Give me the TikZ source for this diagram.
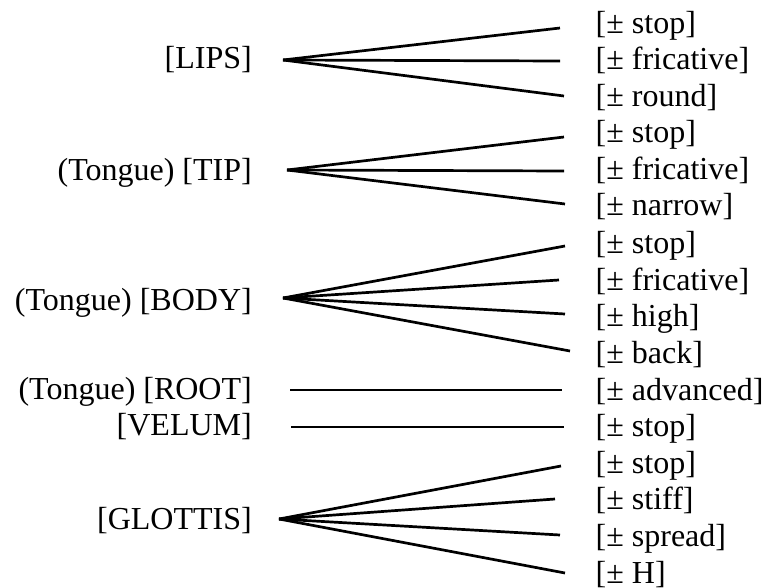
\documentclass[tikz,border=0pt]{standalone}
\usepackage{fontspec}
\setmainfont{Liberation Serif}
\begin{document}
\begin{tikzpicture}[x=1bp, y=-1bp,
  txt/.style={font=\fontsize{32bp}{36bp}\selectfont, inner sep=0pt},
  art/.style={txt, anchor=base east},
  feat/.style={txt, anchor=base west},
  branch/.style={line width=2.7bp, black}]
\useasboundingbox (0,0) rectangle (764,588);

% articulators
\node[art] (lips)    at (252,69)  {[LIPS]};
\node[art] (tip)     at (252,181) {(Tongue) [TIP]};
\node[art] (body)    at (252,310) {(Tongue) [BODY]};
\node[art] (root)    at (252,399) {(Tongue) [ROOT]};
\node[art] (velum)   at (252,435) {[VELUM]};
\node[art] (glottis) at (252,529) {[GLOTTIS]};

% features
\node[feat] (f1)  at (595.5,33.5)  {[± stop]};
\node[feat] (f2)  at (595.5,69.8)  {[± fricative]};
\node[feat] (f3)  at (595.5,106.2) {[± round]};
\node[feat] (f4)  at (595.5,143)   {[± stop]};
\node[feat] (f5)  at (595.5,179.6) {[± fricative]};
\node[feat] (f6)  at (595.5,216)   {[± narrow]};
\node[feat] (f7)  at (595.5,253)   {[± stop]};
\node[feat] (f8)  at (595.5,290)   {[± fricative]};
\node[feat] (f9)  at (595.5,326.8) {[± high]};
\node[feat] (f10) at (595.5,363.4) {[± back]};
\node[feat] (f11) at (595.5,400)   {[± advanced]};
\node[feat] (f12) at (595.5,436.6) {[± stop]};
\node[feat] (f13) at (595.5,473.2) {[± stop]};
\node[feat] (f14) at (595.5,509.8) {[± stiff]};
\node[feat] (f15) at (595.5,546.4) {[± spread]};
\node[feat] (f16) at (595.5,583)   {[± H]};

% branch origins
\coordinate (oLips)    at (283,60);
\coordinate (oTip)     at (287,170);
\coordinate (oBody)    at (283,298);
\coordinate (oRoot)    at (290,390);
\coordinate (oVelum)   at (291,427);
\coordinate (oGlottis) at (279,519);

% branch ends
\coordinate (e1)  at (560,28);
\coordinate (e2)  at (560,61);
\coordinate (e3)  at (564,96);
\coordinate (e4)  at (564,137);
\coordinate (e5)  at (564,171);
\coordinate (e6)  at (565,204);
\coordinate (e7)  at (565,246);
\coordinate (e8)  at (559,280);
\coordinate (e9)  at (565,314);
\coordinate (e10) at (570,351);
\coordinate (e11) at (562,390);
\coordinate (e12) at (564,427);
\coordinate (e13) at (561,466);
\coordinate (e14) at (555,499);
\coordinate (e15) at (560,535);
\coordinate (e16) at (565,573);

\foreach \e in {e1,e2,e3} \draw[branch] (oLips) -- (\e);
\foreach \e in {e4,e5,e6} \draw[branch] (oTip) -- (\e);
\foreach \e in {e7,e8,e9,e10} \draw[branch] (oBody) -- (\e);
\draw[branch] (oRoot) -- (e11);
\draw[branch] (oVelum) -- (e12);
\foreach \e in {e13,e14,e15,e16} \draw[branch] (oGlottis) -- (\e);
\end{tikzpicture}
\end{document}
